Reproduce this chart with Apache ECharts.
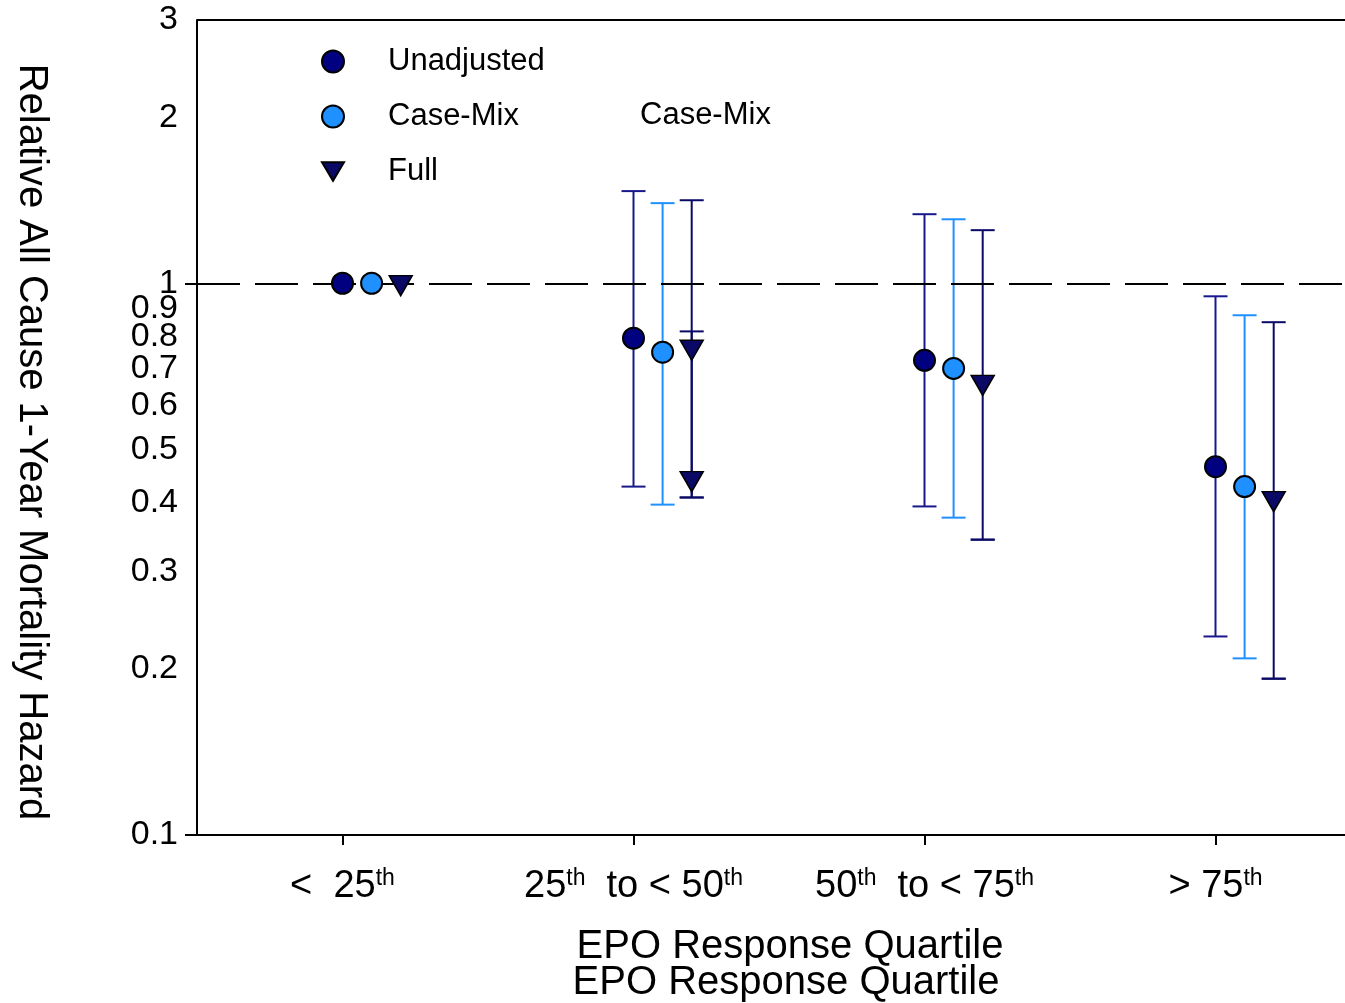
<!DOCTYPE html>
<html>
<head>
<meta charset="utf-8">
<script src="https://cdn.jsdelivr.net/npm/echarts@6/dist/echarts.min.js"></script>
<style>
html, body { margin: 0; padding: 0; background: #fff; }
#chart { width: 1345px; height: 1003px; }
</style>
</head>
<body>
<div id="chart"></div>
<script>
// quartile positions on the x value axis
var catPos = [1, 2, 3, 4];
var xLabels = [
    '{n|<  25}{s|th}',
    '{n|25}{s|th}{n|  to < 50}{s|th}',
    '{n|50}{s|th}{n|  to < 75}{s|th}',
    '{n|> 75}{s|th}'
];
var yTicks = [0.1, 0.2, 0.3, 0.4, 0.5, 0.6, 0.7, 0.8, 0.9, 1, 2, 3];

var unadjusted = [1.0, 0.795, 0.725, 0.465];
var unadjLow = [null, 0.428, 0.394, 0.229];
var unadjHigh = [null, 1.469, 1.334, 0.947];

var caseMix = [1.0, 0.75, 0.701, 0.428];
var caseMixLow = [null, 0.397, 0.376, 0.209];
var caseMixHigh = [null, 1.397, 1.306, 0.875];

var full = [0.99, 0.756, 0.653, 0.402];
var fullLow = [null, 0.409, 0.343, 0.192];
var fullHigh = [null, 1.414, 1.248, 0.85];
// second Full marker and cap drawn in the 25th-50th group
var fullExtra = [null, 0.437, null, null];
var fullExtraCap = [null, 0.818, null, null];

var NAVY = '#000080';
var BLUE = '#1e90ff';
var DARK = '#0a0a66';
var TRI = 'path://M0,0L10,0L5,8.5Z';

function points(vals, off) {
    var out = [];
    for (var i = 0; i < vals.length; i++) {
        if (vals[i] != null) out.push([catPos[i] + off, vals[i]]);
    }
    return out;
}

function bars(low, high, off) {
    var out = [];
    for (var i = 0; i < low.length; i++) {
        if (low[i] != null) out.push([catPos[i] + off, low[i], high[i]]);
    }
    return out;
}

function errorSeries(data, color) {
    return {
        type: 'custom',
        silent: true,
        z: 1,
        data: data,
        encode: { x: 0, y: [1, 2] },
        renderItem: function(params, api) {
            var x = api.value(0);
            var lo = api.coord([x, api.value(1)]);
            var hi = api.coord([x, api.value(2)]);
            var st = { stroke: color, lineWidth: 2 };
            return {
                type: 'group',
                children: [
                    { type: 'line', shape: { x1: lo[0], y1: lo[1], x2: hi[0], y2: hi[1] }, style: st },
                    { type: 'line', shape: { x1: lo[0] - 12, y1: lo[1], x2: lo[0] + 12, y2: lo[1] }, style: st },
                    { type: 'line', shape: { x1: hi[0] - 12, y1: hi[1], x2: hi[0] + 12, y2: hi[1] }, style: st }
                ]
            };
        }
    };
}

var fullBars = bars(fullLow, fullHigh, 0.2).concat(bars(fullLow, fullExtraCap, 0.2));

var chart = echarts.init(document.getElementById('chart'));
var option = {
    animation: false,
    textStyle: { fontFamily: 'Liberation Sans, Arial, sans-serif' },
    grid: { left: 197, right: 0, top: 20, bottom: 168 },
    legend: {
        orient: 'vertical',
        left: 316,
        top: 41,
        itemGap: 24,
        itemWidth: 22,
        itemHeight: 22,
        textStyle: { fontSize: 31, color: '#000', padding: [0, 0, 0, 39] },
        data: ['Unadjusted', 'Case-Mix', 'Full']
    },
    xAxis: {
        type: 'value',
        min: 0.5,
        max: 4.445,
        splitLine: { show: false },
        axisLine: { onZero: false, lineStyle: { color: '#000', width: 2 } },
        axisTick: { customValues: catPos, length: 10, lineStyle: { color: '#000', width: 2 } },
        axisLabel: {
            customValues: catPos,
            margin: 32,
            formatter: function(v) { return xLabels[Math.round(v) - 1]; },
            rich: {
                n: { fontSize: 38, color: '#000', lineHeight: 40 },
                s: { fontSize: 23, color: '#000', lineHeight: 21, verticalAlign: 'top' }
            }
        }
    },
    yAxis: {
        type: 'log',
        logBase: 10,
        min: 0.1,
        max: 3,
        splitLine: { show: false },
        axisLine: { lineStyle: { color: '#000', width: 2 } },
        axisTick: { customValues: [0.1, 1], length: 12, lineStyle: { color: '#000', width: 2 } },
        axisLabel: {
            customValues: yTicks,
            margin: 19,
            fontSize: 34,
            color: '#000',
            padding: [5, 0, 0, 0],
            formatter: function(v) { return String(Math.round(v * 10) / 10); }
        }
    },
    graphic: [
        {
            type: 'text', x: 31, y: 442, rotation: -Math.PI / 2,
            style: {
                text: 'Relative All Cause 1-Year Mortality Hazard',
                fontSize: 40, fontFamily: 'Liberation Sans', fill: '#000',
                align: 'center', verticalAlign: 'middle'
            }
        },
        {
            type: 'text', x: 790, y: 947,
            style: { text: 'EPO Response Quartile', fontSize: 40, fontFamily: 'Liberation Sans', fill: '#000', align: 'center', verticalAlign: 'middle' }
        },
        {
            type: 'text', x: 786, y: 983,
            style: { text: 'EPO Response Quartile', fontSize: 40, fontFamily: 'Liberation Sans', fill: '#000', align: 'center', verticalAlign: 'middle' }
        },
        {
            type: 'text', x: 640, y: 115,
            style: { text: 'Case-Mix', fontSize: 31, fontFamily: 'Liberation Sans', fill: '#000', align: 'left', verticalAlign: 'middle' }
        }
    ],
    series: [
        {
            // top frame line and reference line at 1
            type: 'line',
            silent: true,
            symbol: 'none',
            data: [[0.5, 3], [4.445, 3]],
            lineStyle: { color: '#000', width: 2 },
            markLine: {
                silent: true,
                symbol: ['none', 'none'],
                label: { show: false },
                lineStyle: { color: '#000', width: 2, type: [43, 15] },
                data: [{ yAxis: 1 }]
            },
            z: 0
        },
        errorSeries(bars(unadjLow, unadjHigh, 0), '#18188c'),
        errorSeries(bars(caseMixLow, caseMixHigh, 0.1), BLUE),
        errorSeries(fullBars, DARK),
        {
            name: 'Unadjusted',
            type: 'scatter',
            symbol: 'circle',
            symbolSize: 21,
            z: 5,
            itemStyle: { color: NAVY, borderColor: '#000', borderWidth: 2, opacity: 1 },
            data: points(unadjusted, 0)
        },
        {
            name: 'Case-Mix',
            type: 'scatter',
            symbol: 'circle',
            symbolSize: 21,
            z: 5,
            itemStyle: { color: BLUE, borderColor: '#000', borderWidth: 2, opacity: 1 },
            data: points(caseMix, 0.1)
        },
        {
            name: 'Full',
            type: 'scatter',
            symbol: TRI,
            symbolSize: [23, 20],
            z: 5,
            itemStyle: { color: DARK, borderColor: '#000', borderWidth: 1.5, opacity: 1 },
            data: points(full, 0.2).concat(points(fullExtra, 0.2))
        }
    ]
};
chart.setOption(option);
</script>
</body>
</html>
